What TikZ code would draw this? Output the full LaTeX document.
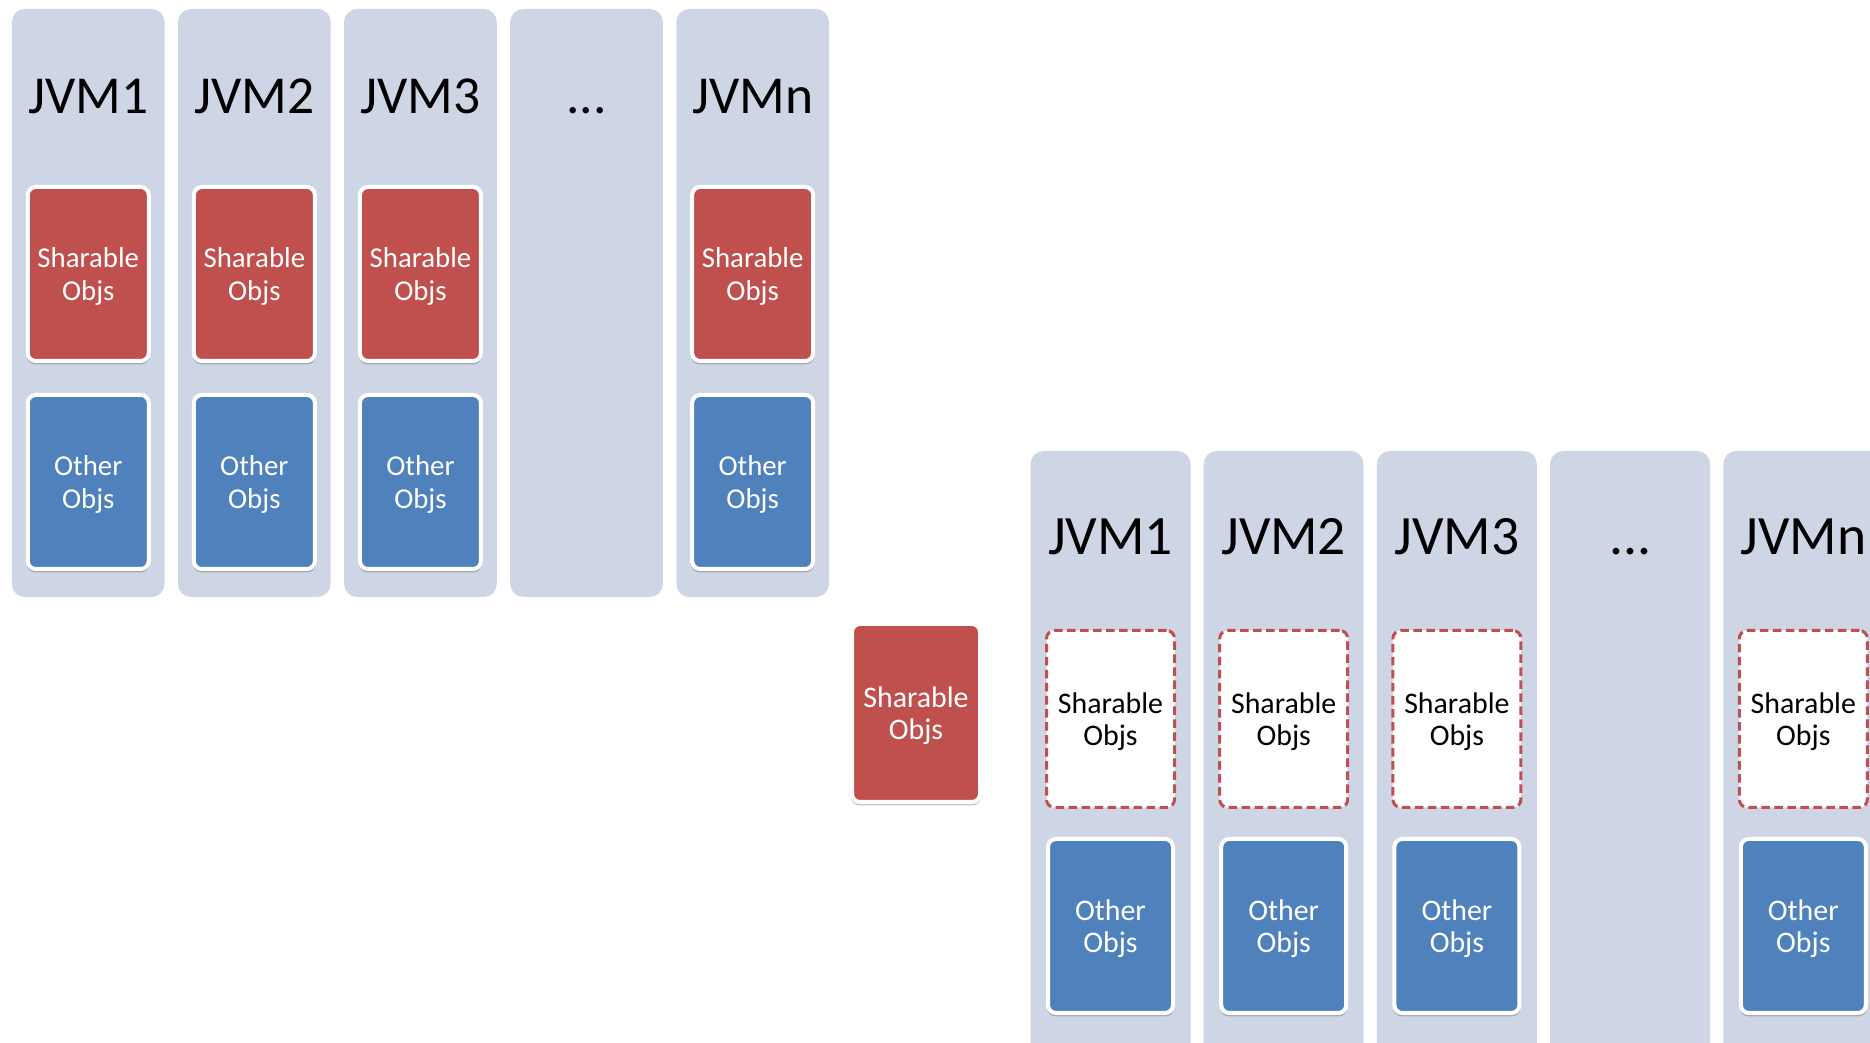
\documentclass[tikz,border=0pt]{standalone}
\usepackage{fontspec}
\setmainfont{Carlito}
\usetikzlibrary{positioning,shadows}
\definecolor{colbg}{RGB}{206,213,229}
\definecolor{objred}{RGB}{192,80,77}
\definecolor{objblue}{RGB}{79,129,189}

\begin{document}
\begin{tikzpicture}[node distance=0.3cm, every node/.style={align=center},
  jvmcol/.style={rectangle, rounded corners=0.13cm, fill=colbg, outer sep=0pt, minimum width=1.527cm, minimum height=5.88cm},
  botcol/.style={jvmcol, minimum width=1.60cm, minimum height=6.5cm},
  jvmname/.style={inner sep=0pt, text height=0.35cm, text depth=0pt, font=\fontsize{15.2}{18}\selectfont},
  botname/.style={jvmname, text height=0.365cm, font=\fontsize{15.8}{19}\selectfont},
  objbox/.style={rectangle, rounded corners=0.08cm, draw=white, line width=0.04cm, inner sep=0pt, text depth=0pt, minimum width=1.21cm, minimum height=1.74cm, text=white, font=\fontsize{8.2}{9.5}\selectfont, drop shadow={shadow xshift=0cm, shadow yshift=-0.02cm, shadow scale=1.015, fill=black!70, opacity=0.3}},
  sharebox/.style={objbox, fill=objred},
  otherbox/.style={objbox, fill=objblue},
  ghostbox/.style={rectangle, rounded corners=0.08cm, draw=objred, line width=0.03cm, dash pattern=on 0.085cm off 0.045cm, fill=white, inner sep=0pt, text depth=0pt, minimum width=1.28cm, minimum height=1.77cm, font=\fontsize{8.5}{9.3}\selectfont}]
  \path[use as bounding box, clip] (0,0) rectangle (18.7,10.43);

  % every JVM keeps its own copy
  \node[jvmcol] (top1) at (0.8825,7.40) {};
  \node[jvmcol, right=0.134cm of top1] (top2) {};
  \node[jvmcol, right=0.134cm of top2] (top3) {};
  \node[jvmcol, right=0.134cm of top3] (top4) {};
  \node[jvmcol, right=0.134cm of top4] (top5) {};
  \node[jvmname, below=0.69cm of top1.north] (topname1) {JVM1};
  \node[jvmname, below=0.69cm of top2.north] (topname2) {JVM2};
  \node[jvmname, below=0.69cm of top3.north] (topname3) {JVM3};
  \node[jvmname, below=0.69cm of top4.north] (topname4) {...};
  \node[jvmname, below=0.69cm of top5.north] (topname5) {JVMn};
  \node[sharebox, below=1.76cm of top1.north] (share1) {Sharable\\Objs};
  \node[sharebox, below=1.76cm of top2.north] (share2) {Sharable\\Objs};
  \node[sharebox, below=1.76cm of top3.north] (share3) {Sharable\\Objs};
  \node[sharebox, below=1.76cm of top5.north] (share5) {Sharable\\Objs};
  \node[otherbox, below=of share1] (other1) {Other\\Objs};
  \node[otherbox, below=of share2] (other2) {Other\\Objs};
  \node[otherbox, below=of share3] (other3) {Other\\Objs};
  \node[otherbox, below=of share5] (other5) {Other\\Objs};

  % shared copy moved out
  \node[botcol] (bot1) at (11.105,2.67) {};
  \node[botcol, right=0.132cm of bot1] (bot2) {};
  \node[botcol, right=0.132cm of bot2] (bot3) {};
  \node[botcol, right=0.132cm of bot3] (bot4) {};
  \node[botcol, right=0.132cm of bot4] (bot5) {};
  \node[botname, below=0.66cm of bot1.north] (botname1) {JVM1};
  \node[botname, below=0.66cm of bot2.north] (botname2) {JVM2};
  \node[botname, below=0.66cm of bot3.north] (botname3) {JVM3};
  \node[botname, below=0.66cm of bot4.north] (botname4) {...};
  \node[botname, below=0.66cm of bot5.north] (botname5) {JVMn};
  \node[ghostbox, below=1.78cm of bot1.north] (ghost1) {Sharable\\Objs};
  \node[ghostbox, below=1.78cm of bot2.north] (ghost2) {Sharable\\Objs};
  \node[ghostbox, below=1.78cm of bot3.north] (ghost3) {Sharable\\Objs};
  \node[ghostbox, below=1.78cm of bot5.north] (ghost5) {Sharable\\Objs};
  \node[otherbox, minimum width=1.25cm, font=\fontsize{8.5}{9.3}\selectfont, below=0.28cm of ghost1] (botother1) {Other\\Objs};
  \node[otherbox, minimum width=1.25cm, font=\fontsize{8.5}{9.3}\selectfont, below=0.28cm of ghost2] (botother2) {Other\\Objs};
  \node[otherbox, minimum width=1.25cm, font=\fontsize{8.5}{9.3}\selectfont, below=0.28cm of ghost3] (botother3) {Other\\Objs};
  \node[otherbox, minimum width=1.25cm, font=\fontsize{8.5}{9.3}\selectfont, below=0.28cm of ghost5] (botother5) {Other\\Objs};
  \node[sharebox, minimum width=1.28cm, minimum height=1.78cm, font=\fontsize{8.5}{9.3}\selectfont, left=0.63cm of ghost1, yshift=0.06cm] (moved) {Sharable\\Objs};
\end{tikzpicture}
\end{document}
